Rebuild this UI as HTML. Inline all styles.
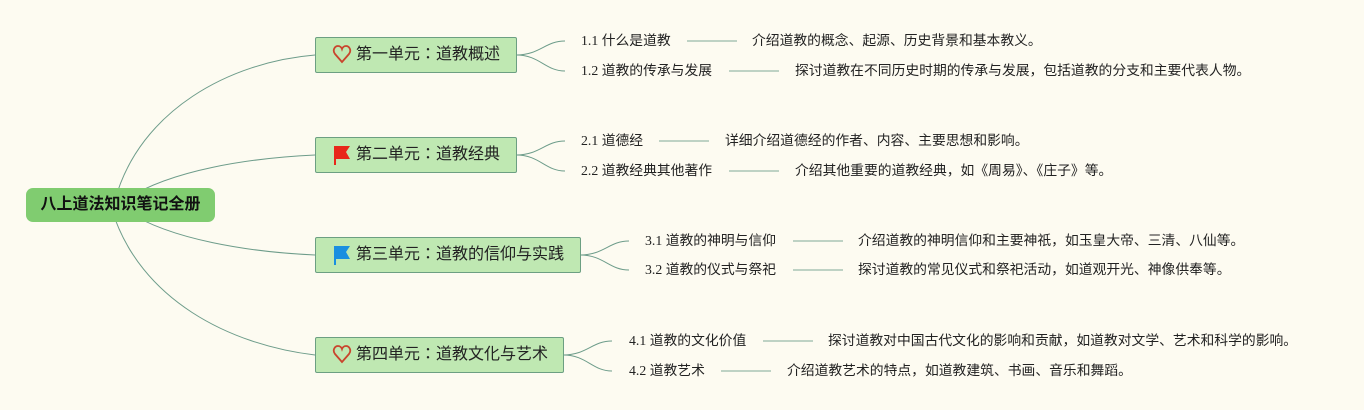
<!DOCTYPE html>
<html><head><meta charset="utf-8"><style>
body{margin:0;width:1364px;height:410px;background:#fdfbf1;overflow:hidden;position:relative;font-family:"Liberation Sans","Noto Sans CJK SC",sans-serif;}
.t{position:absolute;font-size:13.8px;color:#222;white-space:nowrap;line-height:16px;font-family:"Liberation Serif","Noto Sans CJK SC",sans-serif;}
.u{position:absolute;background:#bfe8b2;border:1px solid #6c9f82;border-radius:2px;box-sizing:border-box;font-size:16px;color:#222;line-height:33px;white-space:nowrap;font-family:"Liberation Sans","Noto Sans CJK JP",sans-serif;}
.u span.ic{display:inline-block;width:20px;margin-left:16px;margin-right:4px;vertical-align:top;}
</style></head><body>
<svg width="1364" height="410" style="position:absolute;left:0;top:0">
<g fill="none" stroke="#6d9c8a" stroke-width="1">
<path d="M115,200 C140,110 230,62 315,55"/>
<path d="M125,200 C170,170 250,158 315,155"/>
<path d="M125,210 C170,240 250,252 315,255"/>
<path d="M112,210 C140,300 230,345 315,355"/>
<path d="M516,55 C540,55 545,41 565,41"/><path d="M516,55 C540,55 545,71 565,71"/>
<path d="M516,155 C540,155 545,141 565,141"/><path d="M516,155 C540,155 545,171 565,171"/>
<path d="M580,255 C604,255 609,241 629,241"/><path d="M580,255 C604,255 609,270 629,270"/>
<path d="M563,355 C587,355 592,341 612,341"/><path d="M563,355 C587,355 592,371 612,371"/>
</g>
<g stroke="#a9c4b6" stroke-width="1.5">
<line x1="687" y1="41" x2="737" y2="41"/><line x1="729" y1="71" x2="779" y2="71"/>
<line x1="659" y1="141" x2="709" y2="141"/><line x1="729" y1="171" x2="779" y2="171"/>
<line x1="793" y1="241" x2="843" y2="241"/><line x1="793" y1="270" x2="843" y2="270"/>
<line x1="763" y1="341" x2="813" y2="341"/><line x1="721" y1="371" x2="771" y2="371"/>
</g>
</svg>
<div style="position:absolute;left:26px;top:188px;width:189px;height:34px;background:#80cc70;border-radius:7px;font-size:16px;font-weight:bold;color:#111;line-height:34px;text-align:center;">八上道法知识笔记全册</div>

<div class="u" style="left:315px;top:37px;width:202px;height:36px;"><span class="ic"><svg width="20" height="33" viewBox="0 0 20 33"><path d="M10,24 L3,16 C0,12 3,8 6,8 C8,8 9.5,9.5 10,11 C10.5,9.5 12,8 14,8 C17,8 20,12 17,16 Z" fill="none" stroke="#c9442c" stroke-width="1.8"/></svg></span>第一单元：道教概述</div>
<div class="u" style="left:315px;top:137px;width:202px;height:36px;"><span class="ic"><svg width="20" height="33" viewBox="0 0 20 33"><path d="M2,8 L18,8 L14,14 L18,21 L4,21 L4,27 L2,27 Z" fill="#e8271a"/></svg></span>第二单元：道教经典</div>
<div class="u" style="left:315px;top:237px;width:266px;height:36px;"><span class="ic"><svg width="20" height="33" viewBox="0 0 20 33"><path d="M2,8 L18,8 L14,14 L18,21 L4,21 L4,27 L2,27 Z" fill="#1a8fe0"/></svg></span>第三单元：道教的信仰与实践</div>
<div class="u" style="left:315px;top:337px;width:249px;height:36px;"><span class="ic"><svg width="20" height="33" viewBox="0 0 20 33"><path d="M10,24 L3,16 C0,12 3,8 6,8 C8,8 9.5,9.5 10,11 C10.5,9.5 12,8 14,8 C17,8 20,12 17,16 Z" fill="none" stroke="#c9442c" stroke-width="1.8"/></svg></span>第四单元：道教文化与艺术</div>

<div class="t" style="left:581px;top:33px">1.1 什么是道教</div>
<div class="t" style="left:752px;top:33px">介绍道教的概念、起源、历史背景和基本教义。</div>
<div class="t" style="left:581px;top:63px">1.2 道教的传承与发展</div>
<div class="t" style="left:795px;top:63px">探讨道教在不同历史时期的传承与发展，包括道教的分支和主要代表人物。</div>
<div class="t" style="left:581px;top:133px">2.1 道德经</div>
<div class="t" style="left:725px;top:133px">详细介绍道德经的作者、内容、主要思想和影响。</div>
<div class="t" style="left:581px;top:163px">2.2 道教经典其他著作</div>
<div class="t" style="left:795px;top:163px">介绍其他重要的道教经典，如《周易》、《庄子》等。</div>
<div class="t" style="left:645px;top:233px">3.1 道教的神明与信仰</div>
<div class="t" style="left:858px;top:233px">介绍道教的神明信仰和主要神祇，如玉皇大帝、三清、八仙等。</div>
<div class="t" style="left:645px;top:262px">3.2 道教的仪式与祭祀</div>
<div class="t" style="left:858px;top:262px">探讨道教的常见仪式和祭祀活动，如道观开光、神像供奉等。</div>
<div class="t" style="left:629px;top:333px">4.1 道教的文化价值</div>
<div class="t" style="left:828px;top:333px">探讨道教对中国古代文化的影响和贡献，如道教对文学、艺术和科学的影响。</div>
<div class="t" style="left:629px;top:363px">4.2 道教艺术</div>
<div class="t" style="left:787px;top:363px">介绍道教艺术的特点，如道教建筑、书画、音乐和舞蹈。</div>
</body></html>
